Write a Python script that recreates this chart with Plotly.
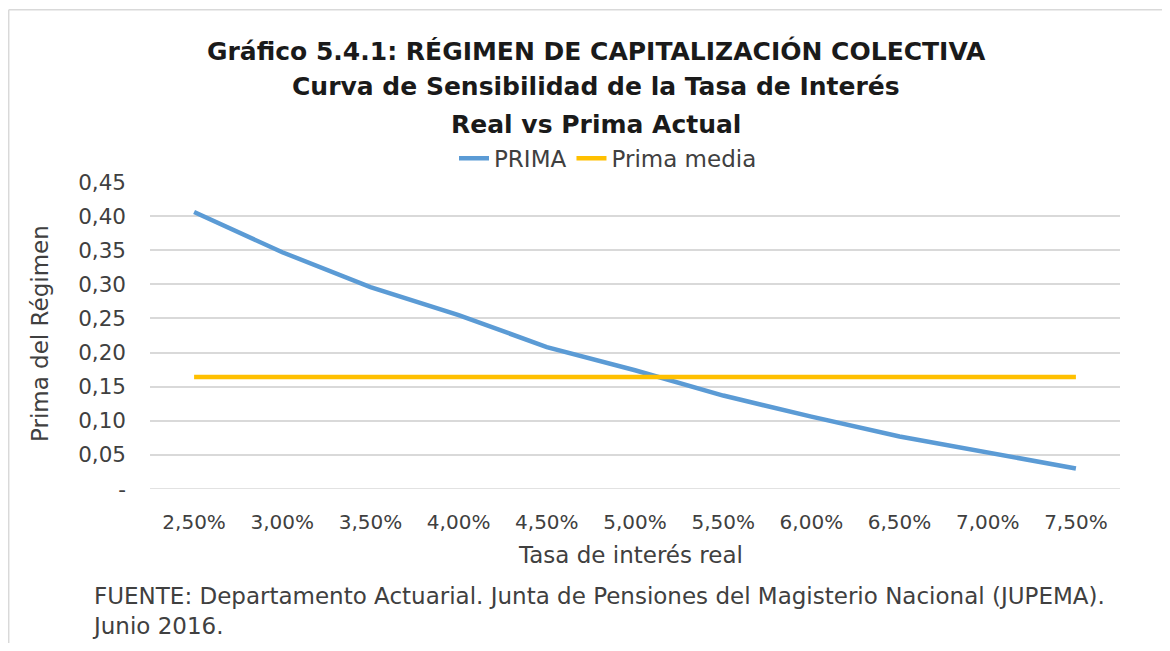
import plotly.graph_objects as go

categories = ["2,50%", "3,00%", "3,50%", "4,00%", "4,50%", "5,00%",
              "5,50%", "6,00%", "6,50%", "7,00%", "7,50%"]
prima = [0.406, 0.347, 0.296, 0.255, 0.208, 0.174, 0.137, 0.106, 0.077, 0.053, 0.030]
prima_media = [0.164] * len(categories)

y_tickvals = [0, 0.05, 0.10, 0.15, 0.20, 0.25, 0.30, 0.35, 0.40, 0.45]
y_ticktext = ["-", "0,05", "0,10", "0,15", "0,20", "0,25", "0,30", "0,35", "0,40", "0,45"]

FONT = "DejaVu Sans"
OFF = 8  # page body margin
W, H = 1154, 635
PL, PR, PT, PB = 150 - OFF, 1120 - OFF, 181.7 - OFF, 489.3 - OFF
L, R, T, B = PL, W - PR, PT, H - PB
PW = PR - PL
PH = PB - PT

def px(x):
    return (x - OFF - PL) / PW

def py(y):
    return (PB - (y - OFF)) / PH

fig = go.Figure()
fig.add_trace(go.Scatter(x=categories, y=prima, mode="lines", name="PRIMA",
                         line=dict(color="#5B9BD5", width=4.5)))
fig.add_trace(go.Scatter(x=categories, y=prima_media, mode="lines", name="Prima media",
                         line=dict(color="#FFC000", width=4.5)))

annotations = []
title_lines = [("Gráfico 5.4.1: RÉGIMEN DE CAPITALIZACIÓN COLECTIVA", 50),
               ("Curva de Sensibilidad de la Tasa de Interés", 86),
               ("Real vs Prima Actual", 124)]
for txt, yy in title_lines:
    annotations.append(dict(text="<b>" + txt + "</b>", x=px(596), y=py(yy), xref="paper", yref="paper",
                            xanchor="center", yanchor="middle", showarrow=False,
                            font=dict(family=FONT, size=25, color="#1a1a1a")))
annotations.append(dict(text="Tasa de interés real", x=px(630), y=py(555), xref="paper", yref="paper",
                        xanchor="center", yanchor="middle", showarrow=False,
                        font=dict(family=FONT, size=23, color="#404040")))
annotations.append(dict(text="Prima del Régimen", x=px(40), y=py(334), xref="paper", yref="paper",
                        xanchor="center", yanchor="middle", showarrow=False, textangle=-90,
                        font=dict(family=FONT, size=23, color="#404040")))
annotations.append(dict(text="FUENTE: Departamento Actuarial. Junta de Pensiones del Magisterio Nacional (JUPEMA).<br>Junio 2016.",
                        x=px(90), y=py(612), xref="paper", yref="paper", align="left",
                        xanchor="left", yanchor="middle", showarrow=False,
                        font=dict(family=FONT, size=23, color="#404040")))

shapes = [
    dict(type="line", xref="paper", yref="paper", x0=px(8.7), x1=px(1170), y0=py(9), y1=py(9),
         line=dict(color="#d9d9d9", width=1.5)),
    dict(type="line", xref="paper", yref="paper", x0=px(8.7), x1=px(8.7), y0=py(9), y1=py(651),
         line=dict(color="#d9d9d9", width=1.5)),
    dict(type="line", xref="paper", yref="y", x0=0, x1=1, y0=0, y1=0,
         line=dict(color="#d9d9d9", width=1.5), layer="below"),
]

fig.update_layout(
    width=W, height=H,
    margin=dict(l=L, r=R, t=T, b=B),
    paper_bgcolor="white", plot_bgcolor="white",
    font=dict(family=FONT, color="#404040"),
    showlegend=True,
    legend=dict(orientation="h", x=px(608), y=py(158), xanchor="center", yanchor="middle",
                font=dict(family=FONT, size=23, color="#404040"),
                bgcolor="rgba(0,0,0,0)"),
    annotations=annotations,
    shapes=shapes,
    xaxis=dict(type="category", showgrid=False, zeroline=False, showline=False,
               ticks="", tickfont=dict(family=FONT, size=20, color="#404040"),
               ticklabelstandoff=19, range=[-0.5, 10.5]),
    yaxis=dict(range=[0, 0.45], tickvals=y_tickvals, ticktext=y_ticktext,
               showgrid=True, gridcolor="#d9d9d9", gridwidth=1.5, zeroline=False,
               showline=False, ticks="", tickfont=dict(family=FONT, size=21.5, color="#404040"),
               ticklabelstandoff=23),
)

fig.write_html("out.html")
